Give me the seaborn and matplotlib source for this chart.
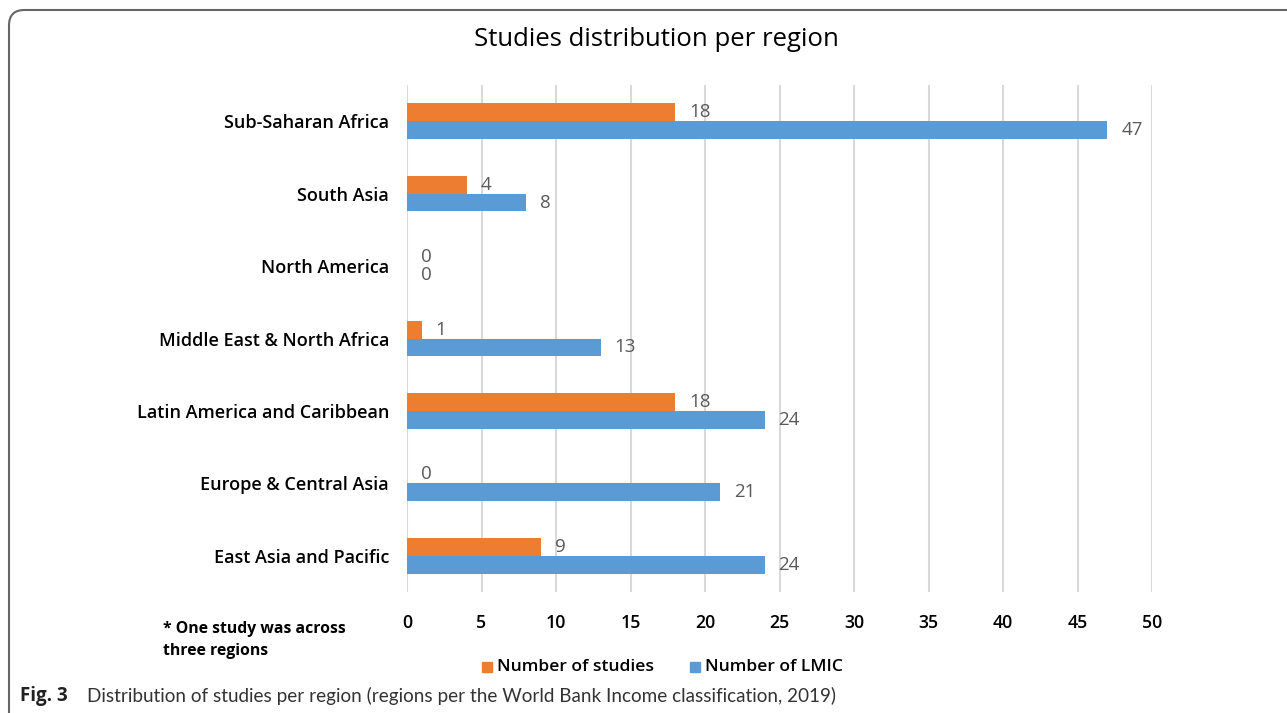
import matplotlib
matplotlib.use("Agg")
import matplotlib.pyplot as plt
from matplotlib.patches import FancyBboxPatch, Rectangle
import seaborn as sns
import pandas as pd

regions = ["Sub-Saharan Africa", "South Asia", "North America",
           "Middle East & North Africa", "Latin America and Caribbean",
           "Europe & Central Asia", "East Asia and Pacific"]
studies = [18, 4, 0, 1, 18, 0, 9]
lmic = [47, 8, 0, 13, 24, 21, 24]
series_names = ["Number of studies", "Number of LMIC"]
colors = ["#ED7D31", "#5B9BD5"]
x_ticks = [0, 5, 10, 15, 20, 25, 30, 35, 40, 45, 50]

df = pd.DataFrame({
    "region": regions * 2,
    "series": [series_names[0]] * len(regions) + [series_names[1]] * len(regions),
    "value": studies + lmic,
})

sns.set_theme(style="white")
plt.rcParams["font.family"] = ["Open Sans", "DejaVu Sans"]

fig = plt.figure(figsize=(12.87, 7.13), dpi=100)
ax = fig.add_axes([407/1287, 1 - 592/713, (1152-407)/1287, (592-85)/713])

sns.barplot(data=df, y="region", x="value", hue="series", order=regions,
            hue_order=series_names, palette=colors, orient="h", width=0.49,
            ax=ax, legend=False, saturation=1, linewidth=0)

for cont in ax.containers:
    labels = ax.bar_label(cont, padding=10, fontsize=13.5, color="#595959")
    for t in labels:
        t.set_va("center")
        t.set_y(t.get_position()[1])

ax.set_xlim(0, 50)
ax.set_ylim(6.5, -0.5)
ax.set_xticks(x_ticks)
ax.set_xlabel("")
ax.set_ylabel("")
ax.xaxis.grid(True, color="#d9d9d9", linewidth=1.5)
ax.set_axisbelow(True)
for s in ax.spines.values():
    s.set_visible(False)
ax.tick_params(axis="both", length=0)
ax.tick_params(axis="x", pad=16, labelsize=12.8, labelcolor="#000000")
ax.tick_params(axis="y", pad=13, labelsize=13, labelcolor="#000000")
for lbl in ax.get_xticklabels() + ax.get_yticklabels():
    lbl.set_fontweight("semibold")

# title
fig.text(656/1287, 1 - 40/713, "Studies distribution per region", ha="center",
         va="center", fontsize=18.5, color="#000000")

# footnote
fig.text(163/1287, 1 - 629/713, "* One study was across", ha="left", va="center",
         fontsize=11.3, fontweight="bold", color="#000000")
fig.text(163/1287, 1 - 651/713, "three regions", ha="left", va="center",
         fontsize=11.3, fontweight="bold", color="#000000")

# legend
for (x0, name, col) in [(482, series_names[0], colors[0]), (690, series_names[1], colors[1])]:
    fig.patches.append(Rectangle((x0/1287, 1 - 672/713), 10/1287, 10/713,
                                 transform=fig.transFigure, color=col))
    fig.text((x0 + 15)/1287, 1 - 667/713, name, ha="left", va="center",
             fontsize=12.6, fontweight="semibold", color="#000000")

# caption
fig.text(20/1287, 1 - 696/713, "Fig. 3", ha="left", va="center",
         fontsize=13.5, fontweight="bold", color="#222222")
fig.text(87/1287, 1 - 696/713,
         "Distribution of studies per region (regions per the World Bank Income classification, 2019)",
         ha="left", va="center", fontsize=13.6, color="#333333", family=["Lato", "DejaVu Sans"])

# border
border = FancyBboxPatch((9/1287, -0.05), 1.2, 1 - 10/713 + 0.05,
                        boxstyle="round,pad=0,rounding_size=0.012",
                        transform=fig.transFigure, fill=False,
                        edgecolor="#666666", linewidth=1.5, mutation_aspect=1287/713)
fig.patches.append(border)

fig.savefig("out.png", dpi=100)
